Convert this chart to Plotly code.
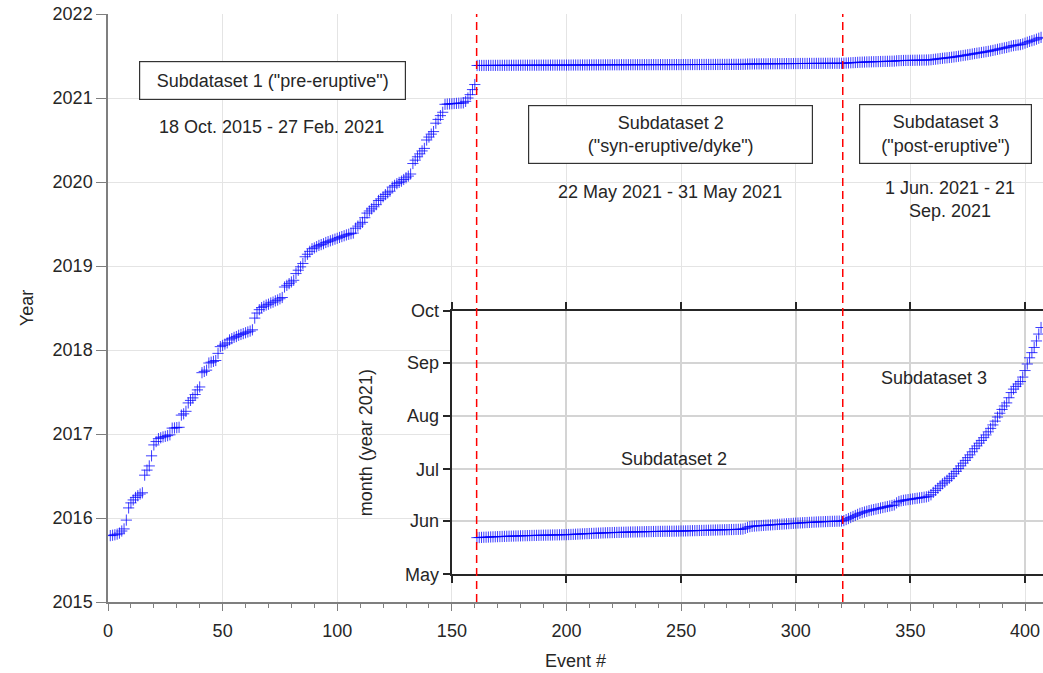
import pandas as pd
import plotly.graph_objects as go

# ---------------------------------------------------------------------------
# Event origin times
# ---------------------------------------------------------------------------
# Subdataset 1 ("pre-eruptive"), events 1-160, decimal year
pre_eruptive_year = [
    2015.790, 2015.795, 2015.800, 2015.808, 2015.820, 2015.845, 2015.870, 2015.975, 2016.120, 2016.180,
    2016.215, 2016.245, 2016.265, 2016.285, 2016.300, 2016.510, 2016.570, 2016.620, 2016.740, 2016.870,
    2016.910, 2016.945, 2016.955, 2016.965, 2016.972, 2016.980, 2016.990, 2017.070, 2017.072, 2017.076,
    2017.080, 2017.225, 2017.240, 2017.270, 2017.370, 2017.400, 2017.430, 2017.470, 2017.525, 2017.560,
    2017.730, 2017.745, 2017.760, 2017.845, 2017.855, 2017.865, 2017.875, 2017.960, 2018.040, 2018.055,
    2018.070, 2018.085, 2018.120, 2018.135, 2018.150, 2018.160, 2018.175, 2018.185, 2018.195, 2018.205,
    2018.215, 2018.225, 2018.240, 2018.380, 2018.440, 2018.480, 2018.505, 2018.520, 2018.535, 2018.545,
    2018.560, 2018.570, 2018.585, 2018.595, 2018.610, 2018.625, 2018.750, 2018.770, 2018.790, 2018.810,
    2018.830, 2018.910, 2018.950, 2018.990, 2019.030, 2019.110, 2019.140, 2019.175, 2019.205, 2019.215,
    2019.230, 2019.245, 2019.255, 2019.265, 2019.280, 2019.290, 2019.300, 2019.310, 2019.320, 2019.330,
    2019.340, 2019.350, 2019.360, 2019.370, 2019.378, 2019.385, 2019.392, 2019.450, 2019.475, 2019.500,
    2019.520, 2019.575, 2019.630, 2019.655, 2019.680, 2019.705, 2019.730, 2019.780, 2019.800, 2019.825,
    2019.850, 2019.870, 2019.890, 2019.940, 2019.960, 2019.980, 2019.995, 2020.010, 2020.030, 2020.050,
    2020.070, 2020.095, 2020.220, 2020.260, 2020.300, 2020.335, 2020.370, 2020.400, 2020.500, 2020.535,
    2020.570, 2020.600, 2020.700, 2020.745, 2020.790, 2020.830, 2020.925, 2020.928, 2020.930, 2020.932,
    2020.934, 2020.936, 2020.938, 2020.940, 2020.942, 2020.960, 2021.000, 2021.040, 2021.100, 2021.160,
]

# Subdataset 2 ("syn-eruptive/dyke"), events 161-320, days after 2021-05-01 00:00
syn_eruptive_days = [
    21.30, 21.38, 21.45, 21.52, 21.58, 21.63, 21.70, 21.76, 21.82, 21.88,
    21.93, 21.98, 22.03, 22.08, 22.12, 22.17, 22.22, 22.26, 22.30, 22.35,
    22.39, 22.43, 22.47, 22.51, 22.55, 22.59, 22.63, 22.66, 22.70, 22.73,
    22.76, 22.79, 22.82, 22.85, 22.88, 22.91, 22.94, 22.97, 23.00, 23.04,
    23.10, 23.16, 23.22, 23.29, 23.36, 23.43, 23.50, 23.56, 23.62, 23.68,
    23.74, 23.80, 23.86, 23.92, 23.98, 24.04, 24.10, 24.15, 24.20, 24.25,
    24.29, 24.33, 24.37, 24.41, 24.45, 24.49, 24.53, 24.57, 24.60, 24.63,
    24.66, 24.69, 24.72, 24.75, 24.78, 24.81, 24.84, 24.87, 24.90, 24.93,
    24.95, 24.97, 24.99, 25.01, 25.03, 25.05, 25.07, 25.09, 25.12, 25.15,
    25.18, 25.21, 25.25, 25.29, 25.33, 25.37, 25.41, 25.45, 25.49, 25.53,
    25.57, 25.61, 25.65, 25.69, 25.73, 25.77, 25.81, 25.85, 25.89, 25.93,
    25.97, 26.01, 26.05, 26.09, 26.14, 26.20, 26.30, 26.70, 27.30, 27.70,
    27.90, 28.02, 28.12, 28.22, 28.32, 28.42, 28.52, 28.62, 28.71, 28.80,
    28.89, 28.98, 29.07, 29.16, 29.25, 29.34, 29.43, 29.52, 29.61, 29.70,
    29.78, 29.86, 29.94, 30.02, 30.10, 30.17, 30.24, 30.31, 30.38, 30.45,
    30.51, 30.57, 30.63, 30.68, 30.73, 30.78, 30.82, 30.86, 30.90, 30.94,
]

# Subdataset 3 ("post-eruptive"), events 321-407, days after 2021-05-01 00:00
post_eruptive_days = [
    31.2, 31.8, 32.4, 33.0, 33.6, 34.2, 34.8, 35.4, 35.8, 36.2,
    36.6, 37.0, 37.3, 37.6, 37.9, 38.2, 38.5, 38.8, 39.1, 39.4,
    39.7, 40.0, 40.3, 41.5, 42.3, 42.7, 43.0, 43.2, 43.4, 43.6,
    43.8, 44.0, 44.2, 44.4, 44.6, 44.8, 45.0, 45.4, 46.2, 47.6,
    48.8, 50.0, 51.4, 52.6, 53.6, 54.6, 55.8, 57.0, 58.4, 59.8,
    61.4, 63.0, 64.6, 66.2, 67.8, 69.4, 71.2, 73.0, 74.6, 76.2,
    77.8, 79.4, 81.0, 82.8, 84.8, 86.8, 89.0, 91.4, 93.6, 95.8,
    97.8, 99.6, 102.6, 105.6, 107.6, 109.2, 110.6, 112.0, 114.6, 118.4,
    122.2, 125.8, 128.8, 131.8, 135.6, 139.6, 143.4,
]

year_ticks = list(range(2015, 2023))
month_ticks = ["2021-05-01", "2021-06-01", "2021-07-01", "2021-08-01", "2021-09-01", "2021-10-01"]
month_labels = ["May", "Jun", "Jul", "Aug", "Sep", "Oct"]
split_events = [160.8, 320.5]

# ---------------------------------------------------------------------------
# Derived series
# ---------------------------------------------------------------------------
day_origin = pd.Timestamp("2021-05-01")
year_origin = pd.Timestamp("2021-01-01")

n1, n2, n3 = len(pre_eruptive_year), len(syn_eruptive_days), len(post_eruptive_days)
ev1 = list(range(1, n1 + 1))
ev2 = list(range(n1 + 1, n1 + n2 + 1))
ev3 = list(range(n1 + n2 + 1, n1 + n2 + n3 + 1))

late_days = syn_eruptive_days + post_eruptive_days
late_events = ev2 + ev3
late_dates = day_origin + pd.to_timedelta(late_days, unit="D")
late_year = [2021 + (d - year_origin).total_seconds() / (365 * 86400) for d in late_dates]

all_events = ev1 + late_events
all_year = pre_eruptive_year + late_year

FONT = "Liberation Sans, Arial, Helvetica, sans-serif"
TXT = "#262626"
AX_MAIN = "#7f7f7f"
AX_INSET = "#262626"
BLUE = "rgba(0,0,255,0.85)"

marker = dict(symbol="cross-thin", size=8, line=dict(color=BLUE, width=0.9), color=BLUE)

fig = go.Figure()
fig.add_trace(go.Scatter(x=all_events, y=all_year, mode="markers", marker=marker,
                         xaxis="x", yaxis="y", showlegend=False))
fig.add_trace(go.Scatter(x=late_events, y=late_dates, mode="markers", marker=marker,
                         xaxis="x2", yaxis="y2", showlegend=False))

x_max = 407.85

for xe in split_events:
    fig.add_shape(type="line", xref="x", yref="paper", x0=xe, x1=xe, y0=0, y1=1,
                  layer="above", line=dict(color="rgb(255,0,0)", width=1.5, dash="8px,5px"))

ann = []
box = dict(showarrow=False, bordercolor="#333333", borderwidth=1.2, borderpad=0,
           bgcolor="white", font=dict(family=FONT, size=18, color=TXT), xref="x", yref="y")
plain = dict(showarrow=False, font=dict(family=FONT, size=18, color=TXT), xref="x", yref="y")
ann.append(dict(box, x=71.8, y=2021.214, text='Subdataset 1 ("pre-eruptive")', width=265, height=37))
ann.append(dict(plain, x=71.1, y=2020.658, text="18 Oct. 2015 - 27 Feb. 2021"))
ann.append(dict(box, x=245.5, y=2020.565, text='Subdataset 2<br>("syn-eruptive/dyke")', width=283, height=57))
ann.append(dict(plain, x=245.1, y=2019.885, text="22 May 2021 - 31 May 2021"))
ann.append(dict(box, x=365.1, y=2020.571, text='Subdataset 3<br>("post-eruptive")', width=171, height=58))
ann.append(dict(plain, x=367.3, y=2019.795, text="1 Jun. 2021 - 21<br>Sep. 2021"))
ann.append(dict(plain, xref="x2", yref="y2", x=246.9, y="2021-07-07 05:00", text="Subdataset 2"))
ann.append(dict(plain, xref="x2", yref="y2", x=360.3, y="2021-08-23 05:00", text="Subdataset 3"))

fig.update_layout(
    template="none",
    width=1043, height=673,
    margin=dict(l=108, r=0, t=14, b=71),
    paper_bgcolor="white", plot_bgcolor="white",
    font=dict(family=FONT, size=18, color=TXT),
    showlegend=False,
    annotations=ann,
    xaxis=dict(
        domain=[0, 1], range=[0, x_max], tick0=0, dtick=50,
        ticks="outside", ticklen=7, tickwidth=1.3, tickcolor=AX_MAIN,
        ticklabelstandoff=5,
        minor=dict(dtick=10, tick0=0, ticks="outside", ticklen=4, tickwidth=1.3,
                   tickcolor=AX_MAIN, showgrid=False),
        showline=True, linecolor=AX_MAIN, linewidth=1.5, mirror=False,
        showgrid=True, gridcolor="#e4e4e4", gridwidth=1, zeroline=False,
        tickfont=dict(family=FONT, size=18, color=TXT),
        title=dict(text="Event #", standoff=14, font=dict(family=FONT, size=18, color=TXT)),
        automargin=False, anchor="y",
    ),
    yaxis=dict(
        domain=[0, 1], range=[2015, 2022], tickvals=year_ticks,
        ticks="outside", ticklen=10, tickwidth=1.3, tickcolor=AX_MAIN,
        showline=True, linecolor=AX_MAIN, linewidth=1.5, mirror=False,
        showgrid=True, gridcolor="#e4e4e4", gridwidth=1, zeroline=False,
        tickfont=dict(family=FONT, size=18, color=TXT),
        title=dict(text="Year", standoff=14, font=dict(family=FONT, size=18, color=TXT)),
        automargin=False, anchor="x",
    ),
    xaxis2=dict(
        domain=[0.3676, 1], range=[150, x_max], tick0=0, dtick=50,
        ticks="outside", ticklen=7, tickwidth=2, tickcolor=AX_INSET,
        showline=True, linecolor=AX_INSET, linewidth=2, mirror="ticks",
        showticklabels=False,
        showgrid=True, gridcolor="#d4d4d4", gridwidth=1.5, zeroline=False,
        automargin=False, anchor="y2",
    ),
    yaxis2=dict(
        domain=[0.0471, 0.4949], type="date", range=["2021-05-01", "2021-10-01"],
        tickvals=month_ticks, ticktext=month_labels,
        ticks="outside", ticklen=7, tickwidth=2, tickcolor=AX_INSET,
        showline=True, linecolor=AX_INSET, linewidth=2, mirror=False,
        showgrid=True, gridcolor="#d4d4d4", gridwidth=1.5, zeroline=False,
        tickfont=dict(family=FONT, size=18, color=TXT),
        title=dict(text="month (year 2021)", standoff=28, font=dict(family=FONT, size=18, color=TXT)),
        automargin=False, anchor="x2",
    ),
)

fig.write_html("out.html")
